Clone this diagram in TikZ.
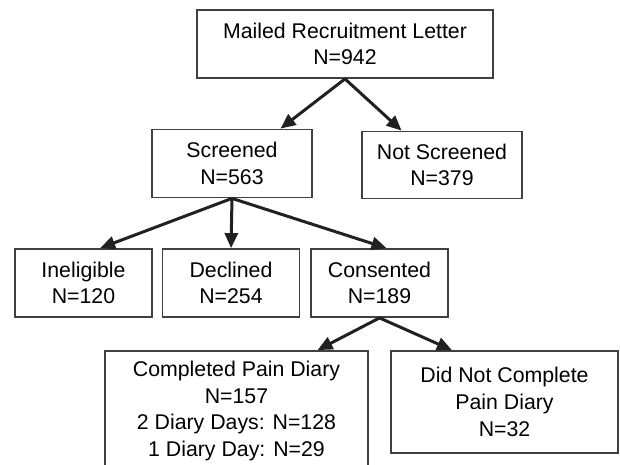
\documentclass[tikz,border=0pt]{standalone}
\usepackage{fontspec}
\setmainfont{Liberation Sans}
\usetikzlibrary{arrows.meta, calc, positioning}

\begin{document}
\begin{tikzpicture}[
x=1pt, y=-1pt,
box/.style   ={rectangle, draw=black!75, line width=1.8pt, align=center, inner sep=0pt,
               font=\fontsize{21.3}{26.7}\selectfont},
line/.style  ={draw, black!87, line width=3pt, -{Triangle[length=15pt,width=13pt]}},
]
\useasboundingbox (0,0) rectangle (620,465);

% Define the nodes
\node[box, minimum width=296, minimum height=68]  (mail) at (345,44)    {Mailed Recruitment Letter\\N=942};
\node[box, minimum width=160, minimum height=68]  (scr)  at (232,163.5) {Screened\\N=563};
\node[box, minimum width=160, minimum height=67]  (nscr) at (442,165)   {Not Screened\\N=379};
\node[box, minimum width=137, minimum height=68]  (inel) at (83.5,283)  {Ineligible\\N=120};
\node[box, minimum width=137, minimum height=68]  (decl) at (231,283)   {Declined\\N=254};
\node[box, minimum width=137, minimum height=68]  (cons) at (379.5,283) {Consented\\N=189};
\node[box, minimum width=263, minimum height=120] (comp) at (236.5,411) {Completed Pain Diary\\N=157\\2 Diary Days: N=128\\1 Diary Day: N=29};
\node[box, minimum width=227, minimum height=102] (dnc)  at (504.5,402) {Did Not Complete\\Pain Diary\\N=32};

% Connect the nodes
\path[line] (mail.south) -- ($(scr.north west)!0.8!(scr.north east)$);
\path[line] (mail.south) -- ($(nscr.north west)!0.25!(nscr.north east)$);
\path[line] (scr.south) -- ($(inel.north west)!0.62!(inel.north east)$);
\path[line] (scr.south) -- (decl.north);
\path[line] (scr.south) -- ($(cons.north west)!0.55!(cons.north east)$);
\path[line] (cons.south) -- ($(comp.north west)!0.806!(comp.north east)$);
\path[line] (cons.south) -- ($(dnc.north west)!0.27!(dnc.north east)$);

\end{tikzpicture}
\end{document}
